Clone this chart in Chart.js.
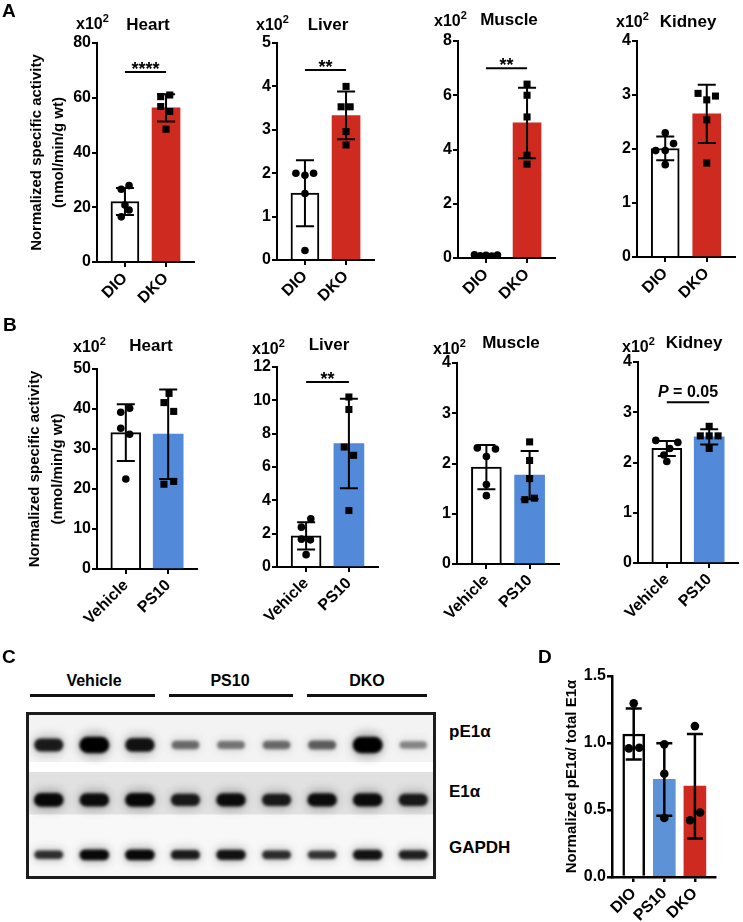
<!DOCTYPE html>
<html>
<head>
<meta charset="utf-8">
<script src="https://cdn.jsdelivr.net/npm/chart.js@4.4.1/dist/chart.umd.min.js"></script>
<style>
  body { margin: 0; background: #fff; }
  #fig { position: relative; width: 743px; height: 922px; overflow: hidden; background: #fff;
         font-family: Arial, "Liberation Sans", Helvetica, sans-serif; font-weight: bold; color: #000; }
  #fig canvas { position: absolute; }
  .t { position: absolute; white-space: nowrap; }
  .sup { font-size: 11px; position: relative; top: -7px; line-height: 0; }
  .grp { position: absolute; height: 3px; background: #111; }
</style>
</head>
<body>
<div id="fig"></div>
<script>
// ---------- data ----------
const aGroups = ['DIO', 'DKO'];
const bGroups = ['Vehicle', 'PS10'];
const dGroups = ['DIO', 'PS10', 'DKO'];

// A: DIO vs DKO (x10^2 nmol/min/g wt)
const heartA_mean = [22.1, 56.3];
const heartA_sd = [4.9, 5.0];
const heartA_pts = [[26.6, 27.9, 20.8, 19.0, 16.5], [60.4, 61.0, 56.8, 55.0, 48.5]];
const heartA_jit = [[-0.09, 0.1, 0, 0.1, -0.09], [-0.13, 0.09, -0.13, 0.09, 0]];

const liverA_mean = [1.54, 3.33];
const liverA_sd = [0.76, 0.55];
const liverA_pts = [[2.0, 1.95, 2.0, 1.53, 0.22], [4.0, 3.53, 3.53, 2.96, 2.65]];
const liverA_jit = [[-0.22, 0, 0.21, 0, 0], [0, -0.12, 0.1, 0, 0]];

const muscleA_mean = [0.1, 4.98];
const muscleA_sd = [0.03, 1.3];
const muscleA_pts = [[0.12, 0.08, 0.1, 0.07, 0.11], [6.41, 6.0, 5.2, 3.79, 3.46]];
const muscleA_jit = [[-0.28, -0.14, 0, 0.14, 0.28], [0, 0, 0, 0, 0]];

const kidneyA_mean = [2.01, 2.65];
const kidneyA_sd = [0.22, 0.54];
const kidneyA_pts = [[2.3, 1.97, 1.97, 2.1, 1.71], [3.03, 2.91, 2.98, 2.54, 1.74]];
const kidneyA_jit = [[0, -0.23, 0, 0.2, 0], [-0.21, 0, 0.21, 0, 0]];

// B: Vehicle vs PS10
const heartB_mean = [34.1, 33.7];
const heartB_sd = [7.1, 11.2];
const heartB_pts = [[39.2, 40.2, 35.2, 33.7, 22.5], [43.9, 41.6, 39.4, 21.2, 21.9]];
const heartB_jit = [[-0.12, 0.09, -0.12, 0.09, 0], [0.02, -0.1, 0.13, -0.1, 0.13]];

const liverB_mean = [1.87, 7.41];
const liverB_sd = [0.82, 2.68];
const liverB_pts = [[2.89, 2.39, 1.67, 1.63, 0.74], [10.2, 9.45, 7.2, 6.7, 3.39]];
const liverB_jit = [[0.11, -0.11, -0.11, 0.1, 0], [0, 0, -0.11, 0.11, 0]];

const muscleB_mean = [1.93, 1.77];
const muscleB_sd = [0.44, 0.48];
const muscleB_pts = [[2.31, 2.29, 2.14, 1.58, 1.36], [2.43, 2.06, 1.70, 1.28, 1.31]];
const muscleB_jit = [[-0.21, 0.21, 0, 0, 0], [0, 0, 0, -0.11, 0.11]];

const kidneyB_mean = [2.28, 2.51];
const kidneyB_sd = [0.15, 0.15];
const kidneyB_pts = [[2.44, 2.40, 2.28, 2.15, 2.02], [2.72, 2.53, 2.53, 2.53, 2.28]];
const kidneyB_jit = [[-0.26, 0.26, 0.07, -0.07, 0], [0, -0.21, 0, 0.21, 0]];

// D: normalized pE1a / total E1a
const ratioD_mean = [1.067, 0.728, 0.678];
const ratioD_sd = [0.19, 0.27, 0.39];
const ratioD_pts = [[1.296, 0.96, 0.965], [0.99, 0.77, 0.44], [1.126, 0.424, 0.481]];
const ratioD_jit = [[0, -0.16, 0.18], [0, 0, 0], [0, -0.16, 0.17]];

// C: western blot band intensities (0..1), lanes V1-3, P1-3, D1-3
const blotGroups = ['Vehicle', 'PS10', 'DKO'];
const blotRows = ['pE1\u03b1', 'E1\u03b1', 'GAPDH'];
const pE1aBand = [0.8, 1.0, 0.85, 0.42, 0.38, 0.42, 0.48, 1.0, 0.3];
const e1aBand = [0.9, 0.88, 0.9, 0.8, 0.88, 0.8, 0.88, 0.88, 0.8];
const gapdhBand = [0.7, 0.9, 0.9, 0.8, 0.85, 0.72, 0.68, 0.85, 0.78];

// ---------- helpers ----------
const FONT = 'Arial, "Liberation Sans", Helvetica, sans-serif';
Chart.defaults.font.family = FONT;
Chart.defaults.color = '#000';
const RED = '#cf2a1f', BLUE = '#5289d9', BLUE_D = '#5d93d6', WHITE = '#ffffff';
const fig = document.getElementById('fig');

function text(html, x, base, size, center, extra) {
  const d = document.createElement('div');
  d.className = 't';
  d.innerHTML = html;
  d.style.fontSize = size + 'px';
  d.style.lineHeight = size + 'px';
  d.style.left = x + 'px';
  d.style.top = (base - 0.8465 * size) + 'px';
  if (center) d.style.transform = 'translateX(-50%)';
  if (extra) Object.assign(d.style, extra);
  fig.appendChild(d);
}

function makeCanvas(left, top, w, h) {
  const cv = document.createElement('canvas');
  cv.width = w; cv.height = h;
  cv.style.left = left + 'px';
  cv.style.top = top + 'px';
  cv.style.width = w + 'px';
  cv.style.height = h + 'px';
  fig.appendChild(cv);
  return cv;
}

// error bars + significance bracket
function annotations(sd, cap, lw, sig) {
  return {
    id: 'annot',
    afterDatasetDraw(chart, args) {
      if (args.meta.type !== 'bar') return;
      const y = chart.scales.y, ctx = chart.ctx;
      const data = chart.data.datasets[args.index].data;
      ctx.save();
      ctx.strokeStyle = '#000';
      ctx.lineWidth = lw;
      args.meta.data.forEach((el, i) => {
        const m = data[i].y;
        const t = y.getPixelForValue(m + sd[i]);
        const b = y.getPixelForValue(Math.max(0, m - sd[i]));
        ctx.beginPath();
        ctx.moveTo(el.x, t); ctx.lineTo(el.x, b);
        ctx.moveTo(el.x - cap / 2, t); ctx.lineTo(el.x + cap / 2, t);
        ctx.moveTo(el.x - cap / 2, b); ctx.lineTo(el.x + cap / 2, b);
        ctx.stroke();
      });
      ctx.restore();
    },
    afterDraw(chart) {
      if (!sig) return;
      const {ctx, scales: {x, y}} = chart;
      const x0 = x.getPixelForValue(0), x1 = x.getPixelForValue(1);
      const yy = y.getPixelForValue(sig.y);
      ctx.save();
      ctx.strokeStyle = '#000';
      ctx.lineWidth = 2;
      ctx.beginPath(); ctx.moveTo(x0, yy); ctx.lineTo(x1, yy); ctx.stroke();
      ctx.fillStyle = '#000';
      const mid = (x0 + x1) / 2;
      if (sig.p) {
        ctx.font = 'italic bold 16px ' + FONT;
        const wP = ctx.measureText('P').width;
        ctx.font = 'bold 16px ' + FONT;
        const rest = ' = ' + sig.p;
        const wR = ctx.measureText(rest).width;
        const sx = mid - (wP + wR) / 2;
        ctx.textBaseline = 'alphabetic';
        ctx.textAlign = 'left';
        ctx.font = 'italic bold 16px ' + FONT;
        ctx.fillText('P', sx, yy - 5);
        ctx.font = 'bold 16px ' + FONT;
        ctx.fillText(rest, sx + wP, yy - 5);
      } else {
        ctx.font = 'bold 18px ' + FONT;
        ctx.textAlign = 'center';
        ctx.textBaseline = 'alphabetic';
        ctx.fillText(sig.stars, mid, yy + 3);
      }
      ctx.restore();
    }
  };
}

function barPanel(c) {
  const padTop = 16, xH = 58;
  const left = c.axisX - c.yW;
  const w = c.xEnd - left + 2;
  const h = c.zero - c.top + padTop + xH;
  const cv = makeCanvas(left, c.top - padTop, w, h);
  const lw = c.lw || 2;
  const axisLine = { drawOnChartArea: false, drawTicks: true, tickLength: 5, color: '#000', lineWidth: lw, offset: false };
  const border = { display: true, color: '#000', width: lw };
  const tickFont = { size: 16, weight: 'bold' };
  const datasets = [{
    type: 'bar',
    order: 2,
    data: c.means.map((m, i) => ({ x: i, y: m })),
    backgroundColor: c.colors,
    borderColor: '#000',
    borderWidth: c.colors.map(col => col === WHITE ? lw : 0),
    barThickness: c.barW
  }];
  c.pts.forEach((arr, g) => {
    datasets.push({
      type: 'scatter',
      order: 1,
      data: arr.map((v, k) => ({ x: g + c.jit[g][k], y: v })),
      pointStyle: c.marks[g],
      pointRadius: c.marks[g] === 'rect' ? 5 : c.dot,
      backgroundColor: '#000',
      borderWidth: 0
    });
  });
  new Chart(cv, {
    type: 'bar',
    data: { datasets },
    plugins: [annotations(c.sd, c.cap, lw, c.sig)],
    options: {
      responsive: false,
      animation: false,
      events: [],
      layout: { padding: { top: padTop, left: 0, right: 2, bottom: 0 } },
      plugins: { legend: { display: false }, tooltip: { enabled: false } },
      scales: {
        x: {
          type: 'linear',
          offset: false,
          bounds: 'data',
          min: c.xMin,
          max: c.xMax,
          afterBuildTicks: s => { s.ticks = c.labels.map((_, i) => ({ value: i })); },
          afterFit: s => { s.height = xH; },
          ticks: {
            autoSkip: false, minRotation: 45, maxRotation: 45, padding: 2,
            font: tickFont, color: '#000',
            callback: v => c.labels[v]
          },
          grid: axisLine,
          border: border
        },
        y: {
          type: 'linear',
          min: 0,
          max: c.max,
          afterFit: s => { s.width = c.yW; },
          ticks: {
            stepSize: c.step, padding: 1, font: tickFont, color: '#000',
            callback: c.fmt || (v => v)
          },
          grid: axisLine,
          border: border,
          title: c.title ? {
            display: true, text: c.title, color: '#000',
            font: { size: 15, weight: 'bold', lineHeight: 1.5 },
            padding: { top: c.titlePad, bottom: 0 }
          } : { display: false }
        }
      }
    }
  });
}

const yTitle = ['Normalized specific activity', '(nmol/min/g wt)'];
const AX = { xMin: -0.68, xMax: 1.68 };

// ---------- panel A ----------
barPanel({ ...AX, axisX: 97, top: 43, zero: 262, xEnd: 197, yW: 97, max: 80, step: 20, barW: 28, cap: 18, dot: 3.8,
  labels: aGroups, means: heartA_mean, sd: heartA_sd, pts: heartA_pts, jit: heartA_jit,
  colors: [WHITE, RED], marks: ['circle', 'rect'], title: yTitle, titlePad: 25.5, sig: { y: 69.4, stars: '****' } });
barPanel({ ...AX, axisX: 277, top: 43, zero: 260, xEnd: 377, yW: 50, max: 5, step: 1, barW: 28, cap: 18, dot: 3.8,
  labels: aGroups, means: liverA_mean, sd: liverA_sd, pts: liverA_pts, jit: liverA_jit,
  colors: [WHITE, RED], marks: ['circle', 'rect'], sig: { y: 4.38, stars: '**' } });
barPanel({ ...AX, axisX: 458, top: 41, zero: 258, xEnd: 558, yW: 50, max: 8, step: 2, barW: 28, cap: 18, dot: 3.8,
  labels: aGroups, means: muscleA_mean, sd: muscleA_sd, pts: muscleA_pts, jit: muscleA_jit,
  colors: [WHITE, RED], marks: ['circle', 'rect'], sig: { y: 7.0, stars: '**' } });
barPanel({ ...AX, axisX: 637, top: 41, zero: 257, xEnd: 738, yW: 50, max: 4, step: 1, barW: 28, cap: 18, dot: 3.8,
  labels: aGroups, means: kidneyA_mean, sd: kidneyA_sd, pts: kidneyA_pts, jit: kidneyA_jit,
  colors: [WHITE, RED], marks: ['circle', 'rect'] });

// ---------- panel B ----------
barPanel({ ...AX, axisX: 97, top: 369, zero: 569, xEnd: 200, yW: 97, max: 50, step: 10, barW: 30, cap: 18, dot: 3.8,
  labels: bGroups, means: heartB_mean, sd: heartB_sd, pts: heartB_pts, jit: heartB_jit,
  colors: [WHITE, BLUE], marks: ['circle', 'rect'], title: yTitle, titlePad: 24 });
barPanel({ ...AX, axisX: 277, top: 367, zero: 567, xEnd: 381, yW: 50, max: 12, step: 2, barW: 30, cap: 18, dot: 3.8,
  labels: bGroups, means: liverB_mean, sd: liverB_sd, pts: liverB_pts, jit: liverB_jit,
  colors: [WHITE, BLUE], marks: ['circle', 'rect'], sig: { y: 11.1, stars: '**' } });
barPanel({ ...AX, axisX: 457, top: 363, zero: 564, xEnd: 562, yW: 50, max: 4, step: 1, barW: 30, cap: 18, dot: 3.8,
  labels: bGroups, means: muscleB_mean, sd: muscleB_sd, pts: muscleB_pts, jit: muscleB_jit,
  colors: [WHITE, BLUE], marks: ['circle', 'rect'] });
barPanel({ ...AX, axisX: 638, top: 362, zero: 563, xEnd: 741, yW: 50, max: 4, step: 1, barW: 30, cap: 18, dot: 3.8,
  labels: bGroups, means: kidneyB_mean, sd: kidneyB_sd, pts: kidneyB_pts, jit: kidneyB_jit,
  colors: [WHITE, BLUE], marks: ['circle', 'rect'], sig: { y: 3.2, p: '0.05' } });

// ---------- panel D ----------
barPanel({ xMin: -0.71, xMax: 2.68, axisX: 612, top: 676, zero: 877, xEnd: 718, yW: 72, max: 1.5, step: 0.5,
  barW: 22, cap: 16, dot: 4.3, lw: 2.5, fmt: v => Number(v).toFixed(1),
  labels: dGroups, means: ratioD_mean, sd: ratioD_sd, pts: ratioD_pts, jit: ratioD_jit,
  colors: [WHITE, BLUE_D, RED], marks: ['circle', 'circle', 'circle'],
  title: 'Normalized pE1\u03b1/ total E1\u03b1', titlePad: 20.5 });

// ---------- panel C: blot ----------
const bandRows = [pE1aBand, e1aBand, gapdhBand];
const bandH = [15, 14, 11];
const stripEdges = [-0.6, 0.31, 0.49, 1.27, 2.44];
const stripShades = ['#f3f3f3', '#ffffff', '#e1e1e1', '#f8f8f8'];

const blotPlugin = {
  id: 'blot',
  beforeDatasetsDraw(chart) {
    const { ctx, chartArea: a, scales: { y } } = chart;
    ctx.save();
    for (let i = 0; i < stripShades.length; i++) {
      const t = y.getPixelForValue(stripEdges[i]);
      const b = y.getPixelForValue(stripEdges[i + 1]);
      ctx.fillStyle = stripShades[i];
      ctx.fillRect(a.left, t, a.width, b - t);
    }
    ctx.restore();
  },
  afterDatasetsDraw(chart) {
    const ctx = chart.ctx;
    bandRows.forEach((row, r) => {
      chart.getDatasetMeta(r).data.forEach((pt, i) => {
        const v = row[i];
        const h = bandH[r] * (0.45 + 0.65 * v * v);
        const w = 30 * (0.88 + 0.12 * v);
        ctx.save();
        ctx.filter = 'blur(4px)';
        ctx.fillStyle = 'rgba(0,0,0,' + (0.25 * v) + ')';
        ctx.beginPath();
        ctx.roundRect(pt.x - w * 0.55, pt.y - h * 0.8, w * 1.1, h * 1.6, h * 0.8);
        ctx.fill();
        ctx.filter = 'blur(1.8px)';
        ctx.fillStyle = 'rgba(0,0,0,' + Math.min(1, 0.15 + 0.9 * v) + ')';
        ctx.beginPath();
        ctx.roundRect(pt.x - w / 2, pt.y - h / 2, w, h, h / 2);
        ctx.fill();
        ctx.restore();
      });
    });
  },
  afterDraw(chart) {
    const { ctx, chartArea: a } = chart;
    ctx.save();
    ctx.strokeStyle = '#1c1c1c';
    ctx.lineWidth = 3;
    ctx.strokeRect(a.left + 1.5, a.top + 1.5, a.width - 3, a.height - 3);
    ctx.restore();
  }
};

const blotCv = makeCanvas(26, 712, 410, 167);
new Chart(blotCv, {
  type: 'scatter',
  data: {
    datasets: bandRows.map((row, r) => ({
      label: blotRows[r],
      data: row.map((v, i) => ({ x: i, y: r })),
      pointRadius: 0
    }))
  },
  plugins: [blotPlugin],
  options: {
    responsive: false,
    animation: false,
    events: [],
    layout: { padding: 0 },
    plugins: { legend: { display: false }, tooltip: { enabled: false } },
    scales: {
      x: { type: 'linear', min: -0.5, max: 8.5, display: false },
      y: { type: 'linear', min: -0.6, max: 2.44, reverse: true, display: false }
    }
  }
});

// blot labels
const grpCenters = [94, 230, 367];
const grpSpans = [[30, 155], [169, 293], [307, 427]];
blotGroups.forEach((g, i) => {
  text(g, grpCenters[i], 687, 16, true);
  const d = document.createElement('div');
  d.className = 'grp';
  d.style.left = grpSpans[i][0] + 'px';
  d.style.width = (grpSpans[i][1] - grpSpans[i][0]) + 'px';
  d.style.top = '693.5px';
  fig.appendChild(d);
});
const rowBase = [737, 797, 853];
blotRows.forEach((r, i) => text(r, 449, rowBase[i], 17));

// ---------- titles and panel letters ----------
const x10 = 'x10<span class="sup">2</span>';
[[76, 30], [256, 31], [434, 27], [616, 28], [73, 353], [252, 355], [433, 355], [622, 353]]
  .forEach(p => text(x10, p[0], p[1], 16));
const tissues = ['Heart', 'Liver', 'Muscle', 'Kidney'];
[[148, 30], [328, 30], [509, 25], [688, 27]].forEach((p, i) => text(tissues[i], p[0], p[1], 17, true));
[[151, 351], [329, 350], [511, 348], [694, 348]].forEach((p, i) => text(tissues[i], p[0], p[1], 17, true));
text('A', 2, 17, 19);
text('B', 3, 331, 19);
text('C', 2, 663, 19);
text('D', 538, 663, 19);
</script>
</body>
</html>
